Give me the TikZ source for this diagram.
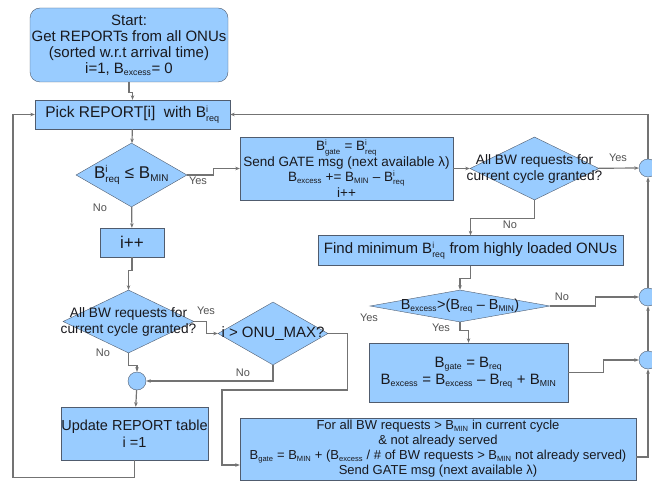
\documentclass[tikz,border=0pt]{standalone}
\usepackage{fontspec}
\setmainfont{Liberation Sans}
\usetikzlibrary{shapes.geometric,arrows.meta}
\definecolor{boxblue}{RGB}{153,204,255}
\definecolor{rimgray}{RGB}{80,92,110}
\definecolor{edgegray}{RGB}{115,115,115}
\definecolor{inkdark}{RGB}{25,25,30}
\makeatletter
\newcommand{\smallt}[1]{\mbox{\fontsize{\fpeval{0.58*\f@size}}{1}\selectfont #1}}
\makeatother
\newcommand{\Bs}[1]{B$_{\smallt{#1}}$}
\newcommand{\Bis}[1]{B$^{\smallt{i}}_{\smallt{#1}}$}
\newcommand{\fs}[2]{\fontsize{#1}{#2}\selectfont}
\tikzset{
  proc/.style={rectangle, draw=rimgray, fill=boxblue, align=center, inner sep=0pt,
    text=inkdark, font=\fs{15}{16}},
  dec/.style={diamond, draw=rimgray, fill=boxblue, inner sep=0pt},
  dectext/.style={align=center, text=inkdark, inner sep=0pt, font=\fs{13.7}{16}},
  joint/.style={circle, draw=rimgray, fill=boxblue, minimum size=18pt, inner sep=0pt},
  lbl/.style={text=edgegray!70!black, font=\fs{11}{11}, inner sep=0pt}
}
\begin{document}
\begin{tikzpicture}[x=1pt,y=-1pt]
  \useasboundingbox (0,0) rectangle (652,494);
  % boxes
  \node[proc, rounded corners=10pt, minimum width=198pt, minimum height=74pt] (start) at (129,45)
    {Start:\\Get REPORTs from all ONUs\\(sorted w.r.t arrival time)\\i=1, \Bs{excess}= 0};
  \node[proc, minimum width=195pt, minimum height=29pt, font=\fs{15.5}{16}] (pick) at (132.5,114.5)
    {Pick REPORT[i]\ \ with \Bis{req}};
  \node[dec, minimum width=111pt, minimum height=64pt] (d1) at (131.5,175) {};
  \node[dectext, font=\fs{17}{17}] at (d1) {\Bis{req} ≤ \Bs{MIN}};
  \node[proc, minimum width=213pt, minimum height=63pt, font=\fs{13.5}{13}]
    (gate) at (346.5,168.5)
    {\Bis{gate} = \Bis{req}\\Send GATE msg (next available λ)\\\Bs{excess} += \Bs{MIN} – \Bis{req}\\i++};
  \node[dec, minimum width=129pt, minimum height=63pt] (d2) at (534.5,168.5) {};
  \node[dectext] at (d2) {All BW requests for\\current cycle granted?};
  \node[joint] (c1) at (648,168) {};
  \node[proc, minimum width=305pt, minimum height=30pt] (find) at (470.5,250.5)
    {Find minimum \Bis{req} from highly loaded ONUs};
  \node[dec, minimum width=180pt, minimum height=32pt] (d3) at (460,306) {};
  \node[dectext, font=\fs{14.5}{15}] at (d3) {\Bs{excess}>(\Bs{req} – \Bs{MIN})};
  \node[joint] (c2) at (648,297) {};
  \node[proc, minimum width=199pt, minimum height=59pt, font=\fs{15}{17}]
    (grant) at (468.5,372.5)
    {\Bs{gate} = \Bs{req}\\\Bs{excess} = \Bs{excess} – \Bs{req} + \Bs{MIN}};
  \node[joint] (c3) at (648,360) {};
  \node[proc, minimum width=396pt, minimum height=62pt, font=\fs{13}{15}]
    (share) at (438,449)
    {For all BW requests > \Bs{MIN} in current cycle\\\& not already served\\
     \Bs{gate} = \Bs{MIN} + (\Bs{excess} / \# of BW requests > \Bs{MIN} not already served)\\
     Send GATE msg (next available λ)};
  \node[proc, minimum width=64pt, minimum height=29pt, font=\fs{17}{17}] (inc) at (132,242.5) {i++};
  \node[dec, minimum width=131pt, minimum height=63pt] (d5) at (128.5,321.5) {};
  \node[dectext] at (d5) {All BW requests for\\current cycle granted?};
  \node[dec, minimum width=110pt, minimum height=63pt] (d4) at (273,333.5) {};
  \node[dectext, font=\fs{15}{15}] at (d4) {i > ONU\_MAX?};
  \node[joint] (c0) at (137,381) {};
  \node[proc, minimum width=141pt, minimum height=53pt, font=\fs{14.5}{17}]
    (upd) at (134.5,433.5) {Update REPORT table\\i =1};
  \coordinate (lp) at (13,114.5);
  \coordinate (yb) at (222,390);
  % connectors
  \begin{scope}[draw=edgegray, line width=1.2pt, -{Stealth[length=4.5pt,width=3.5pt]}]
    \draw (start.south) -- ++(0,10) -| (pick.north);
    \draw (pick) -- (d1);
    \draw (d1.east) -- ++(26,0) |- (gate.west);
    \draw (d1) -- (inc);
    \draw (gate) -- (d2);
    \draw (d2) -- (c1);
    \draw (d2.south) -- ++(0,18) -| (find.north);
    \draw (find.south) -- ++(0,13) -| (d3.north);
    \draw (d3.east) -- ++(45,0) |- (c2.west);
    \draw (d3.south) -- ++(0,8) -| (grant.north);
    \draw (grant.east) -- ++(35,0) |- (c3.west);
    \draw ([yshift=-8pt]share.east) -| (c3.south);
    \draw (c3) -- (c2);
    \draw (c2) -- (c1);
    \draw (c1.north) |- (pick.east);
    \draw (inc.south) -- ++(0,13) -| (d5.north);
    \draw (d5.east) -- ++(12,0) |- (d4.west);
    \draw (d5.south) -- ++(0,12) -| (c0.north);
    \draw (d4.south) |- (c0.east);
    \draw (d4.east) -- ++(19,0) |- (yb) |- ([yshift=-16pt]share.west);
    \draw (c0) -- (upd);
    \draw (upd.south) -- ++(0,17) -| (lp) -- (pick.west);
  \end{scope}
  % branch labels
  \node[lbl] at (198,181) {Yes};
  \node[lbl] at (100,208) {No};
  \node[lbl] at (618,158) {Yes};
  \node[lbl] at (510,225) {No};
  \node[lbl] at (562,297) {No};
  \node[lbl] at (441,328) {Yes};
  \node[lbl] at (206,311) {Yes};
  \node[lbl] at (103,353) {No};
  \node[lbl] at (243,373) {No};
  \node[lbl] at (369,318) {Yes};
\end{tikzpicture}
\end{document}
